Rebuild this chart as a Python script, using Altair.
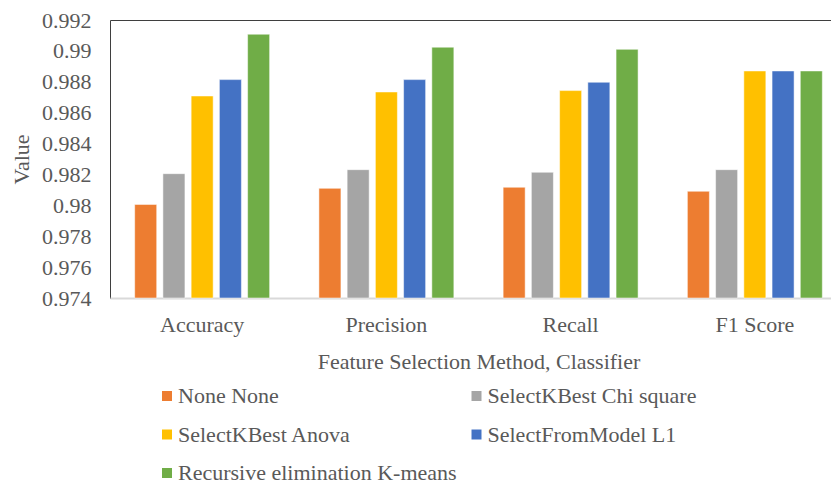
import altair as alt
import pandas as pd

metrics = ["Accuracy", "Precision", "Recall", "F1 Score"]
methods = [
    "None None",
    "SelectKBest Chi square",
    "SelectKBest Anova",
    "SelectFromModel L1",
    "Recursive elimination K-means",
]
none_none = [0.98006, 0.9811, 0.98117, 0.98091]
chi_square = [0.98205, 0.98231, 0.98214, 0.98231]
anova = [0.98708, 0.98734, 0.98743, 0.9887]
l1 = [0.98814, 0.98814, 0.98797, 0.9887]
rfe_kmeans = [0.99108, 0.99024, 0.9901, 0.9887]
colors = ["#ED7D31", "#A5A5A5", "#FFC000", "#4472C4", "#70AD47"]
y_ticks = [0.974, 0.976, 0.978, 0.98, 0.982, 0.984, 0.986, 0.988, 0.99, 0.992]

series = [none_none, chi_square, anova, l1, rfe_kmeans]
rows = []
for m, vals in zip(methods, series):
    for metric, v in zip(metrics, vals):
        rows.append({"Metric": metric, "Method": m, "Value": v})
df = pd.DataFrame(rows)

FONT = "Liberation Serif"
TXT = "#595959"

chart = (
    alt.Chart(df)
    .mark_bar(stroke="#ffffff", strokeWidth=1, strokeOpacity=0.5)
    .encode(
        x=alt.X(
            "Metric:N",
            sort=metrics,
            scale=alt.Scale(range=[0, 737], paddingInner=0.2675, paddingOuter=0.134),
            axis=alt.Axis(
                title="Feature Selection Method, Classifier",
                labelAngle=0,
                ticks=False,
                domainColor="#D9D9D9",
                domainWidth=2,
                labelPadding=16,
                titlePadding=16,
            ),
        ),
        xOffset=alt.XOffset(
            "Method:N",
            sort=methods,
            scale=alt.Scale(paddingInner=0.22, paddingOuter=0),
        ),
        y=alt.Y(
            "Value:Q",
            scale=alt.Scale(domain=[0.974, 0.992], zero=False, nice=False),
            axis=alt.Axis(
                title="Value",
                values=y_ticks,
                format=".3~f",
                ticks=False,
                domain=False,
                grid=False,
                labelPadding=19,
                titlePadding=8,
            ),
        ),
        y2=alt.datum(0.974),
        color=alt.Color(
            "Method:N",
            sort=methods,
            scale=alt.Scale(domain=methods, range=colors),
            legend=alt.Legend(
                title=None,
                orient="none",
                direction="horizontal",
                legendX=46,
                legendY=365,
                columns=2,
                columnPadding=8.5,
                rowPadding=16.5,
                padding=0,
                symbolType="square",
                symbolSize=100,
                symbolStrokeWidth=0,
                labelOffset=0,
                labelLimit=400,
            ),
        ),
    )
    .properties(
        width=721,
        height=278,
        autosize=alt.AutoSizeParams(type="none"),
        padding={"left": 102, "top": 12, "right": 0, "bottom": 188},
    )
    .configure_view(stroke="#3F3F3F", strokeWidth=1)
    .configure_axis(
        labelFont=FONT,
        titleFont=FONT,
        labelFontSize=22,
        titleFontSize=22,
        labelColor=TXT,
        titleColor=TXT,
        titleFontWeight="normal",
    )
    .configure_legend(
        labelFont=FONT,
        labelFontSize=22,
        labelColor=TXT,
    )
)

chart.save("out.html", embed_options={"renderer": "svg", "actions": False})
